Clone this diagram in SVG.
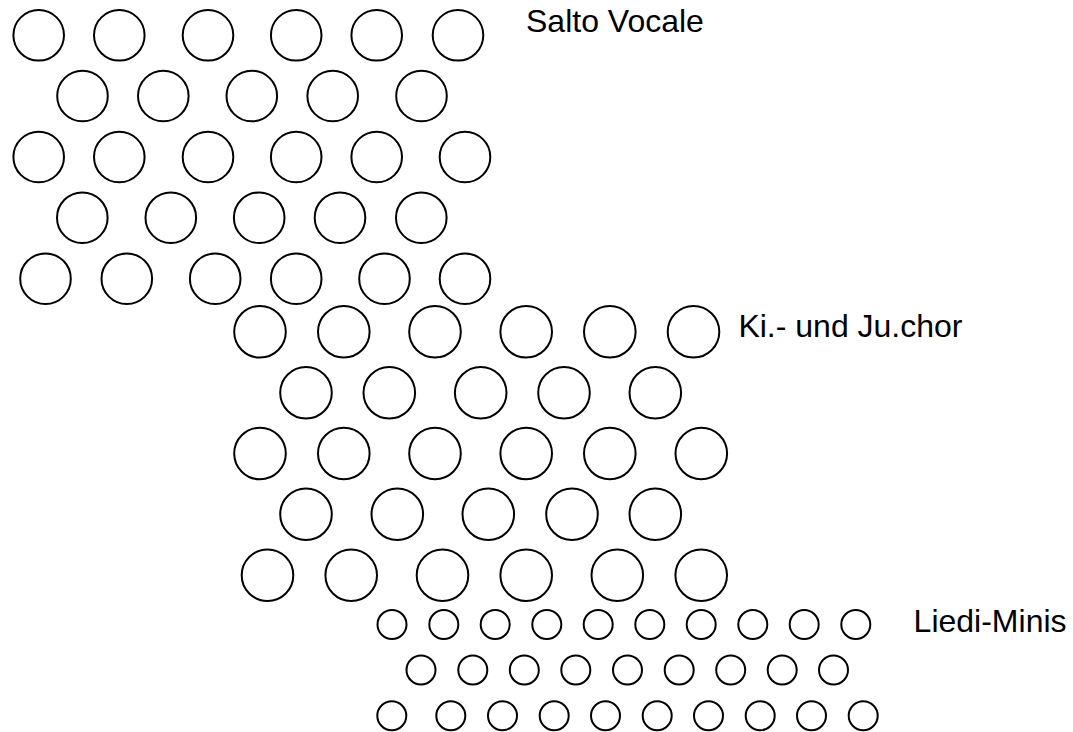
<svg xmlns="http://www.w3.org/2000/svg" width="1073" height="732" viewBox="0 0 1073 732">
<style>
.b{fill:none;stroke:#000;stroke-width:2}
.s{fill:none;stroke:#000;stroke-width:2}
text{font-family:"Liberation Sans",Arial,sans-serif;font-size:32px;fill:#000}
</style>
<rect width="1073" height="732" fill="#fff"/>
<g id="salto-vocale">
<circle class="b" cx="38.7" cy="35.3" r="25.3"/><circle class="b" cx="119.3" cy="35.3" r="25.3"/><circle class="b" cx="208" cy="35.3" r="25.3"/><circle class="b" cx="296.2" cy="35.3" r="25.3"/><circle class="b" cx="376.7" cy="35.3" r="25.3"/><circle class="b" cx="458" cy="35.3" r="25.3"/>
<circle class="b" cx="82.5" cy="96" r="25.3"/><circle class="b" cx="163.3" cy="96" r="25.3"/><circle class="b" cx="251.8" cy="96" r="25.3"/><circle class="b" cx="332.7" cy="96" r="25.3"/><circle class="b" cx="421.5" cy="96" r="25.3"/>
<circle class="b" cx="38.7" cy="157" r="25.3"/><circle class="b" cx="119.3" cy="157" r="25.3"/><circle class="b" cx="208" cy="157" r="25.3"/><circle class="b" cx="296.2" cy="157" r="25.3"/><circle class="b" cx="376.7" cy="157" r="25.3"/><circle class="b" cx="465" cy="157" r="25.3"/>
<circle class="b" cx="82.3" cy="217.7" r="25.3"/><circle class="b" cx="170.8" cy="217.7" r="25.3"/><circle class="b" cx="259.2" cy="217.7" r="25.3"/><circle class="b" cx="340" cy="217.7" r="25.3"/><circle class="b" cx="421.3" cy="217.7" r="25.3"/>
<circle class="b" cx="45.5" cy="278.7" r="25.3"/><circle class="b" cx="126.8" cy="278.7" r="25.3"/><circle class="b" cx="215.2" cy="278.7" r="25.3"/><circle class="b" cx="296.2" cy="278.7" r="25.3"/><circle class="b" cx="384.5" cy="278.7" r="25.3"/><circle class="b" cx="465" cy="278.7" r="25.3"/>
<text x="526" y="32.3">Salto Vocale</text>
</g>
<g id="ki-ju-chor">
<circle class="b" cx="260" cy="331.8" r="25.8"/><circle class="b" cx="343.8" cy="331.8" r="25.8"/><circle class="b" cx="435" cy="331.8" r="25.8"/><circle class="b" cx="526.2" cy="331.8" r="25.8"/><circle class="b" cx="609.8" cy="331.8" r="25.8"/><circle class="b" cx="693.5" cy="331.8" r="25.8"/>
<circle class="b" cx="306" cy="392.7" r="25.8"/><circle class="b" cx="389.3" cy="392.7" r="25.8"/><circle class="b" cx="480.7" cy="392.7" r="25.8"/><circle class="b" cx="564" cy="392.7" r="25.8"/><circle class="b" cx="655.3" cy="392.7" r="25.8"/>
<circle class="b" cx="260" cy="453.5" r="25.8"/><circle class="b" cx="343.8" cy="453.5" r="25.8"/><circle class="b" cx="435" cy="453.5" r="25.8"/><circle class="b" cx="526.2" cy="453.5" r="25.8"/><circle class="b" cx="609.8" cy="453.5" r="25.8"/><circle class="b" cx="701.3" cy="453.5" r="25.8"/>
<circle class="b" cx="306" cy="514.3" r="25.8"/><circle class="b" cx="397.3" cy="514.3" r="25.8"/><circle class="b" cx="488.3" cy="514.3" r="25.8"/><circle class="b" cx="572" cy="514.3" r="25.8"/><circle class="b" cx="655.3" cy="514.3" r="25.8"/>
<circle class="b" cx="267.5" cy="575.2" r="25.8"/><circle class="b" cx="351.2" cy="575.2" r="25.8"/><circle class="b" cx="442.5" cy="575.2" r="25.8"/><circle class="b" cx="526.2" cy="575.2" r="25.8"/><circle class="b" cx="617.3" cy="575.2" r="25.8"/><circle class="b" cx="701.2" cy="575.2" r="25.8"/>
<text x="738.4" y="336.7">Ki.- und Ju.chor</text>
</g>
<g id="liedi-minis">
<circle class="s" cx="392" cy="624.5" r="14.5"/><circle class="s" cx="443.8" cy="624.5" r="14.5"/><circle class="s" cx="495.2" cy="624.5" r="14.5"/><circle class="s" cx="546.8" cy="624.5" r="14.5"/><circle class="s" cx="598.2" cy="624.5" r="14.5"/><circle class="s" cx="649.8" cy="624.5" r="14.5"/><circle class="s" cx="701.2" cy="624.5" r="14.5"/><circle class="s" cx="752.8" cy="624.5" r="14.5"/><circle class="s" cx="804.2" cy="624.5" r="14.5"/><circle class="s" cx="855.8" cy="624.5" r="14.5"/>
<circle class="s" cx="421" cy="670" r="14.5"/><circle class="s" cx="472.8" cy="670" r="14.5"/><circle class="s" cx="524.3" cy="670" r="14.5"/><circle class="s" cx="575.8" cy="670" r="14.5"/><circle class="s" cx="627.5" cy="670" r="14.5"/><circle class="s" cx="679.2" cy="670" r="14.5"/><circle class="s" cx="730.7" cy="670" r="14.5"/><circle class="s" cx="782.2" cy="670" r="14.5"/><circle class="s" cx="833.5" cy="670" r="14.5"/>
<circle class="s" cx="391.8" cy="715.7" r="14.5"/><circle class="s" cx="450.8" cy="715.7" r="14.5"/><circle class="s" cx="502.5" cy="715.7" r="14.5"/><circle class="s" cx="554.2" cy="715.7" r="14.5"/><circle class="s" cx="605.5" cy="715.7" r="14.5"/><circle class="s" cx="657.2" cy="715.7" r="14.5"/><circle class="s" cx="708.5" cy="715.7" r="14.5"/><circle class="s" cx="760.2" cy="715.7" r="14.5"/><circle class="s" cx="811.5" cy="715.7" r="14.5"/><circle class="s" cx="863.2" cy="715.7" r="14.5"/>
<text x="913.6" y="632.3">Liedi-Minis</text>
</g>
</svg>
